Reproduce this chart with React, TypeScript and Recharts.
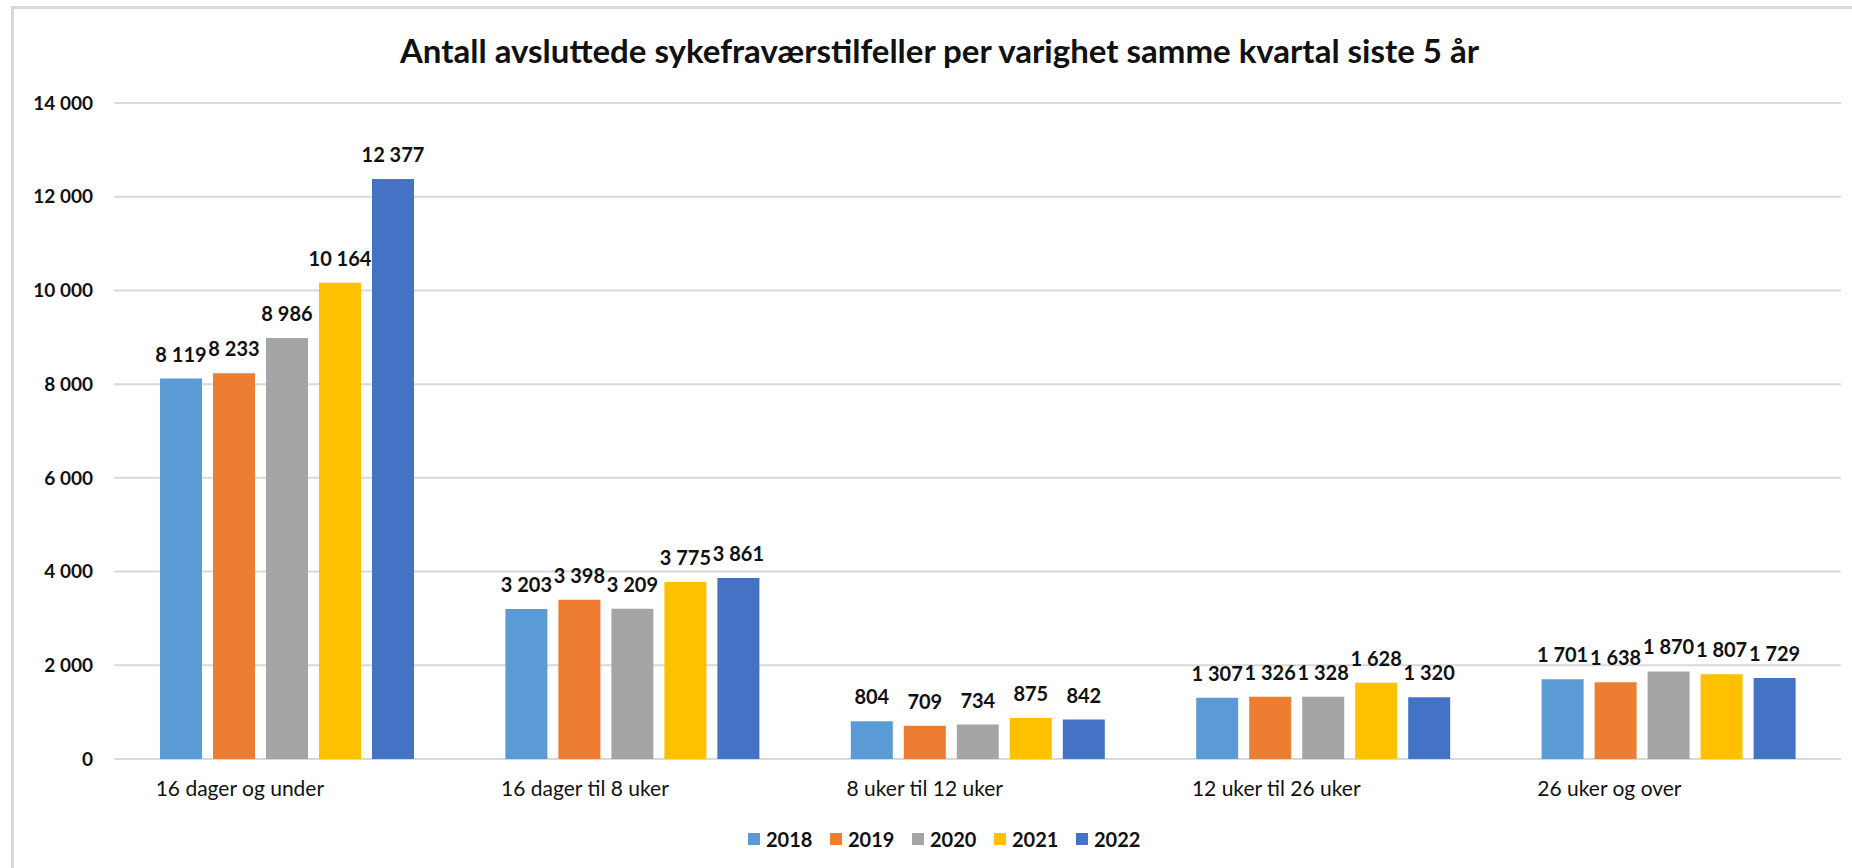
import React from 'react';
import { BarChart, Bar, XAxis, YAxis, CartesianGrid, Legend, LabelList } from 'recharts';

const categories = [
  '16 dager og under',
  '16 dager til 8 uker',
  '8 uker til 12 uker',
  '12 uker til 26 uker',
  '26 uker og over',
];
const years = ['2018', '2019', '2020', '2021', '2022'];
const colors = ['#5b9bd5', '#ed7d31', '#a5a5a5', '#ffc000', '#4472c4'];

const v2018 = [8119, 3203, 804, 1307, 1701];
const v2019 = [8233, 3398, 709, 1326, 1638];
const v2020 = [8986, 3209, 734, 1328, 1870];
const v2021 = [10164, 3775, 875, 1628, 1807];
const v2022 = [12377, 3861, 842, 1320, 1729];
const series = [v2018, v2019, v2020, v2021, v2022];

const yTicks = [0, 2000, 4000, 6000, 8000, 10000, 12000, 14000];

const title = 'Antall avsluttede sykefraværstilfeller per varighet samme kvartal siste 5 år';

const data = categories.map((name, i) => {
  const row: Record<string, any> = { name };
  years.forEach((y, j) => { row[y] = series[j][i]; });
  return row;
});

const fmt = (n: any) => String(n).replace(/\B(?=(\d{3})+(?!\d))/g, ' ');

const FONT = 'Lato, "Open Sans", sans-serif';

const CategoryTick = (props: any) => {
  const { x, y, payload } = props;
  return (
    <text x={x - 131} y={y + 37} textAnchor="start" fontSize={21} fill="#111" fontFamily={FONT}>
      {payload.value}
    </text>
  );
};

// plain text label so values like "12 377" never wrap
const ValueLabel = (props: any) => {
  const { x, y, width, value } = props;
  return (
    <text
      x={x + width / 2}
      y={y - 17}
      textAnchor="middle"
      fontSize={20}
      fontWeight={700}
      fill="#111"
      fontFamily={FONT}
    >
      {fmt(value)}
    </text>
  );
};

const LegendContent = (props: any) => {
  const { payload = [] } = props;
  return (
    <div style={{ display: 'flex', alignItems: 'center', height: 30, paddingLeft: 748, fontFamily: FONT }}>
      {payload.map((p: any) => (
        <div key={p.value} style={{ display: 'flex', alignItems: 'center', marginRight: 19 }}>
          <span style={{ width: 12, height: 12, background: p.color, display: 'inline-block', marginRight: 6 }} />
          <span style={{ fontSize: 20, fontWeight: 700, color: '#111', width: 45 }}>{p.value}</span>
        </div>
      ))}
    </div>
  );
};

export default function App() {
  return (
    <div style={{ position: 'absolute', left: 0, top: 0, width: 1852, height: 868, overflow: 'hidden', background: '#fff', fontFamily: FONT }}>
      <div style={{ position: 'absolute', left: 11, top: 6, width: 1900, height: 900, border: '3px solid #d9d9d9', boxSizing: 'border-box' }} />
      <div style={{ position: 'absolute', left: 0, top: 30, width: 1879, textAlign: 'center', fontSize: 33, lineHeight: '40px', fontWeight: 700, color: '#111' }}>
        {title}
      </div>
      <div style={{ position: 'absolute', left: 0, top: 0 }}>
        <BarChart
          width={1852}
          height={868}
          data={data}
          margin={{ top: 103, right: 11, left: 0, bottom: 14 }}
          barGap={11}
        >
          <CartesianGrid horizontal vertical={false} stroke="#d9d9d9" strokeWidth={2} />
          <XAxis
            dataKey="name"
            axisLine={false}
            tickLine={false}
            tickSize={0}
            tickMargin={0}
            height={65}
            tick={<CategoryTick />}
            interval={0}
          />
          <YAxis
            domain={[0, 14000]}
            ticks={yTicks}
            width={114}
            axisLine={false}
            tickLine={false}
            tickSize={0}
            tickMargin={21}
            tickFormatter={fmt}
            tick={{ fontSize: 19, fontWeight: 700, fill: '#111', fontFamily: FONT }}
          />
          <Legend
            verticalAlign="bottom"
            content={<LegendContent />}
            wrapperStyle={{ left: 0, top: 824, width: 1852, height: 30 }}
          />
          {years.map((y, j) => (
            <Bar key={y} dataKey={y} name={y} fill={colors[j]} barSize={42} isAnimationActive={false}>
              <LabelList dataKey={y} content={<ValueLabel />} />
            </Bar>
          ))}
        </BarChart>
      </div>
    </div>
  );
}
